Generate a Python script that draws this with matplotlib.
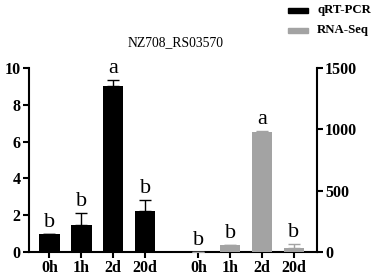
import numpy as np
import matplotlib.pyplot as plt
from matplotlib.patches import Rectangle

plt.rcParams['font.family'] = ['Liberation Serif', 'DejaVu Serif']

times = ["0h", "1h", "2d", "20d"]
qrt = [1.0, 1.48, 9.02, 2.23]
qrt_err = [0.0, 0.65, 0.32, 0.6]
qrt_sig = ["b", "b", "a", "b"]
rna = [0, 55, 980, 36]
rna_err = [0, 4, 4, 26]
rna_sig = ["b", "b", "a", "b"]

x1 = np.arange(4)
x2 = np.arange(4) + 4.67
gray = "#a3a3a3"

fig = plt.figure(figsize=(3.73, 2.76), dpi=100)
ax = fig.add_axes([0.078, 0.087, 0.771, 0.667])
ax2 = ax.twinx()

ax.bar(x1, qrt, width=0.64, color="black")
ax.errorbar(x1, qrt, yerr=[np.zeros(4), qrt_err], fmt="none", ecolor="black",
            elinewidth=1, capsize=4, capthick=1)
ax2.bar(x2, rna, width=0.64, color=gray)
ax2.errorbar(x2, rna, yerr=[np.zeros(4), rna_err], fmt="none", ecolor=gray,
             elinewidth=1, capsize=4, capthick=1)

for xi, v, e, s in zip(x1, qrt, qrt_err, qrt_sig):
    ax.annotate(s, (xi, v + e), xytext=(0, 5), textcoords="offset points",
                ha="center", va="baseline", fontsize=16)
for xi, v, e, s in zip(x2, rna, rna_err, rna_sig):
    ax2.annotate(s, (xi, v + e), xytext=(0, 5), textcoords="offset points",
                 ha="center", va="baseline", fontsize=16)

ax.set_xlim(-0.64, 8.38)
ax.set_ylim(0, 10)
ax2.set_ylim(0, 1500)
ax.set_yticks([0, 2, 4, 6, 8, 10])
ax2.set_yticks([0, 500, 1000, 1500])
ax.set_xticks(np.concatenate([x1, x2]))
ax.set_xticklabels(times + times, fontsize=11.5, fontweight="bold")
for a in (ax, ax2):
    a.tick_params(width=1.5, length=4, labelsize=11.5, pad=2)
    for lab in a.get_yticklabels():
        lab.set_fontweight("bold")
    a.spines["top"].set_visible(False)
ax.spines["right"].set_visible(False)
ax2.spines["left"].set_visible(False)
ax2.spines["bottom"].set_visible(False)
for sp in ("left", "bottom"):
    ax.spines[sp].set_linewidth(1.5)
ax2.spines["right"].set_linewidth(1.5)

fig.text(0.47, 0.847, "NZ708_RS03570", ha="center", va="center", fontsize=9.8)

fig.patches.append(Rectangle((288 / 373, 1 - 13 / 276), 20 / 373, 5 / 276,
                             transform=fig.transFigure, color="black"))
fig.patches.append(Rectangle((288 / 373, 1 - 33 / 276), 20 / 373, 5 / 276,
                             transform=fig.transFigure, color=gray))
fig.text(317 / 373, 1 - 10 / 276, "qRT-PCR", va="center", fontsize=9.2, fontweight="bold")
fig.text(317 / 373, 1 - 30 / 276, "RNA-Seq", va="center", fontsize=9.2, fontweight="bold")

fig.savefig("out.png", dpi=100)
